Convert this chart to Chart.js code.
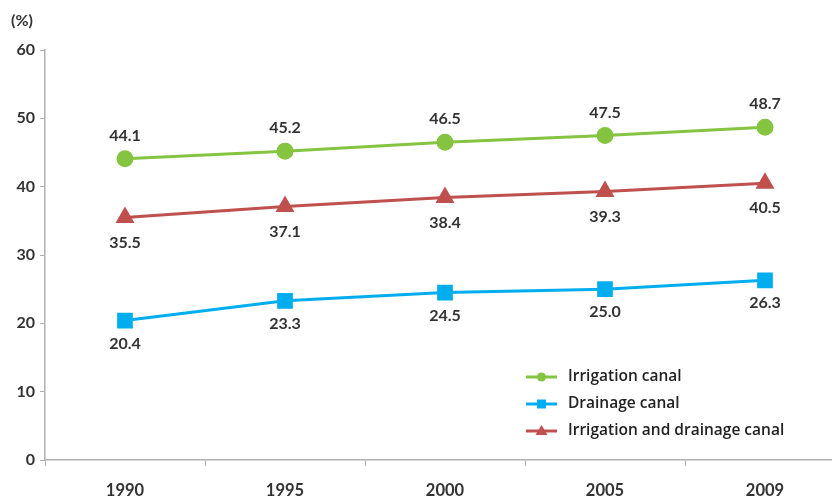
<!DOCTYPE html>
<html>
<head>
<meta charset="utf-8">
<script src="https://cdn.jsdelivr.net/npm/chart.js@4/dist/chart.umd.min.js"></script>
<style>
  html, body { margin: 0; padding: 0; background: #fff; overflow: hidden; }
  #wrap { width: 860px; height: 499px; }
</style>
</head>
<body>
<div id="wrap"><canvas id="c" width="857" height="499"></canvas></div>
<script>
const categories = ['1990', '1995', '2000', '2005', '2009'];
const irrigationCanal = [44.1, 45.2, 46.5, 47.5, 48.7];
const drainageCanal = [20.4, 23.3, 24.5, 25.0, 26.3];
const irrigationDrainageCanal = [35.5, 37.1, 38.4, 39.3, 40.5];
const seriesNames = ['Irrigation canal', 'Drainage canal', 'Irrigation and drainage canal'];
const yTicks = [0, 10, 20, 30, 40, 50, 60];
const unitLabel = '(%)';

const GREEN = '#84C441';
const BLUE = '#00AEEF';
const RED = '#C0504D';
const TEXT = '#333333';
const FONT = 'Lato, "Open Sans", sans-serif';
const LEGEND_FONT = '"Open Sans", Lato, sans-serif';

const labelPlugin = {
  id: 'valueLabels',
  afterDatasetsDraw(chart) {
    const ctx = chart.ctx;
    ctx.save();
    ctx.font = 'bold 16px ' + FONT;
    ctx.fillStyle = TEXT;
    ctx.textAlign = 'center';
    ctx.textBaseline = 'middle';
    chart.data.datasets.forEach((ds, i) => {
      const meta = chart.getDatasetMeta(i);
      meta.data.forEach((pt, j) => {
        ctx.fillText(ds.data[j].toFixed(1), pt.x, pt.y + ds.labelOffset);
      });
    });
    ctx.textAlign = 'left';
    ctx.font = 'bold 16px ' + FONT;
    ctx.fillText(unitLabel, 11, 21);
    ctx.restore();
  }
};

const legendPlugin = {
  id: 'customLegend',
  afterDraw(chart) {
    const ctx = chart.ctx;
    ctx.save();
    const x0 = 526, x1 = 557, tx = 568;
    const ys = [377, 404, 431];
    [0, 1, 2].forEach((i, k) => {
      const ds = chart.data.datasets[i];
      const y = ys[k];
      ctx.strokeStyle = ds.borderColor;
      ctx.lineWidth = 3;
      ctx.beginPath();
      ctx.moveTo(x0, y);
      ctx.lineTo(x1, y);
      ctx.stroke();
      const cx = (x0 + x1) / 2;
      ctx.fillStyle = ds.backgroundColor;
      ctx.beginPath();
      if (ds.pointStyle === 'circle') {
        ctx.arc(cx, y, 4.5, 0, Math.PI * 2);
      } else if (ds.pointStyle === 'rect') {
        ctx.rect(cx - 4.5, y - 4.5, 9, 9);
      } else {
        ctx.moveTo(cx, y - 6);
        ctx.lineTo(cx + 6, y + 4);
        ctx.lineTo(cx - 6, y + 4);
        ctx.closePath();
      }
      ctx.fill();
      ctx.fillStyle = '#222';
      ctx.font = '600 15.5px ' + LEGEND_FONT;
      ctx.textAlign = 'left';
      ctx.textBaseline = 'middle';
      ctx.fillText(ds.label, tx, y);
    });
    ctx.restore();
  }
};

new Chart(document.getElementById('c'), {
  type: 'line',
  data: {
    labels: categories,
    datasets: [
      {
        label: seriesNames[0], data: irrigationCanal,
        borderColor: GREEN, backgroundColor: GREEN, borderWidth: 3,
        pointStyle: 'circle', pointRadius: 7, pointHoverRadius: 7, labelOffset: -23
      },
      {
        label: seriesNames[1], data: drainageCanal,
        borderColor: BLUE, backgroundColor: BLUE, borderWidth: 3,
        pointStyle: 'rect', pointRadius: 9, pointHoverRadius: 9, labelOffset: 23
      },
      {
        label: seriesNames[2], data: irrigationDrainageCanal,
        borderColor: RED, backgroundColor: RED, borderWidth: 3,
        pointStyle: 'triangle', pointRadius: 8, pointHoverRadius: 8, labelOffset: 25
      }
    ]
  },
  options: {
    responsive: false,
    animation: false,
    layout: { padding: { top: 50, right: 5, left: 0, bottom: 0 } },
    plugins: {
      legend: { display: false },
      tooltip: { enabled: false }
    },
    scales: {
      x: {
        offset: true,
        grid: { display: true, drawOnChartArea: false, drawTicks: true, tickLength: 6, offset: true, color: '#B0B0B0' },
        border: { display: true, color: '#B0B0B0', width: 1.5 },
        ticks: { color: TEXT, font: { family: FONT, size: 16.5, weight: 'bold' }, padding: 15 },
        afterFit(scale) { scale.height = 39; }
      },
      y: {
        min: 0, max: 60,
        afterBuildTicks(scale) { scale.ticks = yTicks.map(v => ({ value: v })); },
        grid: { display: true, drawOnChartArea: false, drawTicks: true, tickLength: 5, color: '#B0B0B0' },
        border: { display: true, color: '#B0B0B0', width: 1.5 },
        ticks: { color: TEXT, font: { family: FONT, size: 16, weight: 'bold' }, padding: 5 },
        afterFit(scale) { scale.width = 45; }
      }
    }
  },
  plugins: [labelPlugin, legendPlugin]
});
</script>
</body>
</html>
